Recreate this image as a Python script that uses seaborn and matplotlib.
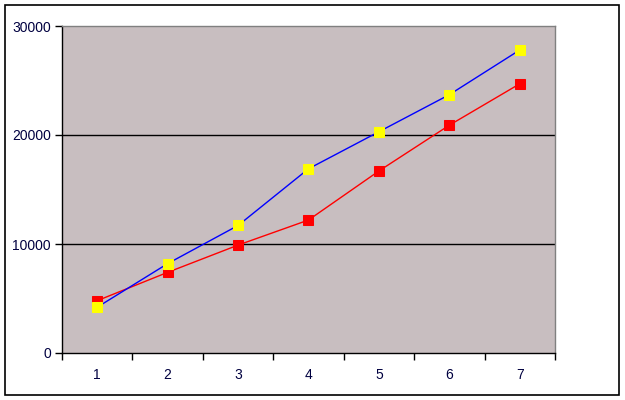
import numpy as np
import pandas as pd
import matplotlib
matplotlib.use("Agg")
import matplotlib.pyplot as plt
from matplotlib.patches import Rectangle
import seaborn as sns

# Data
categories = [1, 2, 3, 4, 5, 6, 7]
series_a = [4800, 7400, 9900, 12200, 16700, 20900, 24700]   # red squares
series_b = [4200, 8200, 11700, 16900, 20300, 23700, 27800]  # yellow squares, blue line
y_ticks = [0, 10000, 20000, 30000]

sns.set_theme(style="white")
plt.rcParams['font.family'] = ['Liberation Sans', 'DejaVu Sans']

fig = plt.figure(figsize=(6.25, 4), dpi=100)
fig.patch.set_facecolor("white")
ax = fig.add_axes([62 / 625, 47 / 400, 493 / 625, 327 / 400])
ax.set_facecolor("#C8BEC0")

df = pd.DataFrame({"x": categories, "a": series_a, "b": series_b})

sns.lineplot(data=df, x="x", y="a", ax=ax, color="red", linewidth=1,
             marker="s", markersize=7, markerfacecolor="red",
             markeredgecolor="red", zorder=3)
sns.lineplot(data=df, x="x", y="b", ax=ax, color="blue", linewidth=1,
             marker="s", markersize=7, markerfacecolor="yellow",
             markeredgecolor="yellow", zorder=4)

ax.set_xlim(0.5, 7.5)
ax.set_ylim(0, 30000)
ax.set_xlabel("")
ax.set_ylabel("")

# gridlines
for v in [10000, 20000]:
    ax.axhline(v, color="black", linewidth=1, zorder=2)

# ticks
ax.set_yticks(y_ticks)
ax.set_yticklabels([str(t) for t in y_ticks])
ax.set_xticks(categories)
ax.set_xticklabels([str(c) for c in categories])
ax.set_xticks(np.arange(0.5, 8, 1), minor=True)
ax.tick_params(axis="x", which="major", length=0, pad=11, labelsize=10, colors="#000040")
ax.tick_params(axis="x", which="minor", length=5, width=1, color="black", direction="out", bottom=True)
ax.tick_params(axis="y", which="major", length=5, width=1, color="black", direction="out",
               left=True, pad=3, labelsize=10, labelcolor="#000040")

for side in ["left", "bottom"]:
    ax.spines[side].set_color("black")
    ax.spines[side].set_linewidth(1)
for side in ["top", "right"]:
    ax.spines[side].set_color("#808080")
    ax.spines[side].set_linewidth(1)

# outer border of the chart area
fig.patches.append(Rectangle((5 / 625, 5 / 400), 614 / 625, 390 / 400,
                             transform=fig.transFigure, fill=False,
                             edgecolor="black", linewidth=1.2))

fig.savefig("out.png", dpi=100)
